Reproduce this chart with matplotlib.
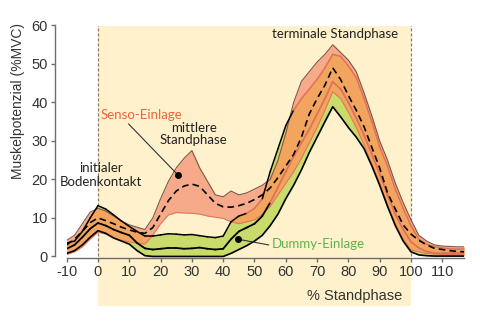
import numpy as np
import matplotlib
matplotlib.use("Agg")
import matplotlib.pyplot as plt
from matplotlib.collections import LineCollection
from matplotlib.patches import Rectangle

plt.rcParams["axes.unicode_minus"] = False

# % stance phase sampling grid
stance = np.arange(-10, 117.6, 2.5)

# Senso insole: upper band edge, mean, lower band edge (%MVC)
senso_hi = [4.2, 5.5, 8.5, 11.5, 12.5, 11.8, 10.5, 9.2, 8.2, 7.6, 7.0, 10.0, 15.0, 19.5,
            23.0, 25.5, 27.5, 23.0, 19.5, 16.0, 15.5, 17.0, 16.0, 16.5, 17.5, 18.5, 20.0,
            25.0, 32.0, 40.0, 45.5, 48.0, 50.5, 52.5, 55.0, 53.0, 51.0, 48.0, 42.5, 36.5,
            30.0, 25.0, 19.0, 14.0, 9.5, 5.5, 4.0, 3.0, 2.7, 2.6, 2.5, 2.5]
senso_mean = [3.0, 4.5, 6.5, 8.8, 10.0, 9.3, 8.5, 7.6, 6.9, 6.3, 6.0, 7.5, 11.0, 14.5,
              17.0, 18.3, 18.8, 18.2, 16.0, 13.8, 12.9, 12.8, 13.2, 13.8, 14.8, 16.0, 17.8,
              20.5, 23.5, 26.5, 31.0, 37.0, 41.0, 44.5, 49.0, 46.0, 41.8, 38.0, 33.7, 28.3,
              23.0, 16.5, 12.3, 8.2, 5.8, 4.2, 3.0, 2.1, 1.8, 1.5, 1.3, 1.2]
senso_lo = [0.5, 1.2, 2.5, 4.5, 6.3, 5.8, 4.8, 4.2, 3.8, 3.4, 3.2, 5.5, 8.5, 10.8,
            11.4, 11.3, 11.2, 11.0, 10.5, 10.2, 9.9, 9.0, 8.5, 9.0, 9.5, 11.0, 13.0,
            16.0, 19.0, 22.0, 25.5, 29.5, 33.5, 38.0, 42.8, 41.0, 37.5, 33.5, 29.0, 24.0,
            19.0, 13.5, 8.5, 4.5, 1.7, 1.2, 0.8, 0.6, 0.5, 0.5, 0.5, 0.5]

# Dummy insole: upper band edge, mean, lower band edge (%MVC)
dummy_hi = [3.5, 4.0, 6.5, 10.0, 13.2, 12.3, 10.8, 9.2, 7.8, 6.5, 5.3, 5.3, 5.6, 5.9,
            5.8, 5.6, 5.7, 5.4, 5.1, 4.9, 5.3, 9.0, 10.5, 11.2, 12.5, 15.0, 22.0,
            28.0, 34.0, 38.0, 41.0, 43.5, 46.0, 49.0, 52.5, 52.0, 49.5, 46.5, 41.0, 35.0,
            28.5, 23.5, 17.5, 12.5, 8.0, 4.5, 3.2, 2.5, 2.2, 2.0, 1.9, 1.9]
dummy_mean = [2.0, 3.0, 5.0, 7.2, 8.7, 8.0, 7.0, 6.2, 5.5, 3.5, 2.1, 1.8, 2.0, 2.2,
              2.2, 2.0, 2.1, 2.3, 2.0, 1.8, 2.0, 4.5, 6.5, 7.5, 8.5, 10.5, 14.0,
              18.0, 22.0, 26.0, 29.5, 33.0, 37.0, 41.0, 45.4, 43.5, 40.0, 36.0, 31.5, 26.5,
              21.5, 16.0, 11.0, 7.0, 3.8, 2.2, 1.3, 0.9, 0.8, 0.8, 0.8, 0.8]
dummy_lo = [0.8, 1.5, 3.0, 5.0, 6.7, 6.0, 4.8, 4.0, 3.2, 1.5, 0.2, 0.0, 0.0, 0.0,
            0.0, 0.0, 0.0, 0.0, 0.0, 0.0, 0.0, 0.8, 1.8, 2.8, 4.0, 5.5, 8.0,
            11.0, 15.0, 18.5, 22.5, 27.0, 31.0, 35.0, 38.9, 36.3, 33.5, 31.0, 28.0, 23.5,
            18.5, 13.0, 8.0, 4.0, 1.2, 0.4, 0.2, 0.1, 0.1, 0.1, 0.1, 0.1]

x_ticks = [-10, 0, 10, 20, 30, 40, 50, 60, 70, 80, 90, 100, 110]
y_ticks = [0, 10, 20, 30, 40, 50, 60]

C_PHASE = "#FEF1CC"
C_SENSO = "#F6AA8A"
C_DUMMY = "#C8DB6B"
C_BOTH = "#F3A55F"
C_RED = "#DD7356"
C_AXIS = "#6E6E6E"
C_SENSO_TXT = "#E8673D"
C_DUMMY_TXT = "#5DB44F"

W, H = 481, 323
fig = plt.figure(figsize=(W / 100, H / 100), dpi=100)
ax = fig.add_axes([66.7 / W, (H - 258) / H, 397.5 / W, (258 - 25.5) / H])
ax.set_xlim(-10, 117)
ax.set_ylim(-0.4, 60)
ax.patch.set_alpha(0)

sx = np.asarray(stance)
s_hi, s_m, s_lo = map(np.asarray, (senso_hi, senso_mean, senso_lo))
d_hi, d_m, d_lo = map(np.asarray, (dummy_hi, dummy_mean, dummy_lo))

# stance phase shading, reaching below the axis
ax.add_patch(Rectangle((0, -12.8), 100, 72.8, facecolor=C_PHASE, edgecolor="none",
                       clip_on=False, zorder=0))
for xv in (0, 100):
    ax.plot([xv, xv], [0, 60], color="#8C7F70", lw=0.9, ls=(0, (2.5, 1.5)), zorder=1)

# bands
ax.fill_between(sx, d_lo, d_hi, color=C_DUMMY, lw=0, zorder=2)
ax.fill_between(sx, s_lo, s_hi, color=C_SENSO, lw=0, zorder=2.1)
ov_lo = np.maximum(s_lo, d_lo)
ov_hi = np.minimum(s_hi, d_hi)
ax.fill_between(sx, ov_lo, ov_hi, where=ov_hi > ov_lo, interpolate=True,
                color=C_BOTH, lw=0, zorder=2.2)


def two_tone(y, inner, lw, z):
    pts = np.column_stack([sx, y])
    segs = np.stack([pts[:-1], pts[1:]], axis=1)
    m = inner[:-1] & inner[1:]
    cols = [C_RED if k else "black" for k in m]
    ax.add_collection(LineCollection(segs, colors=cols, linewidths=lw, zorder=z,
                                     capstyle="round", joinstyle="round"))


def inside_senso(y):
    return (sx > 45) & (y < s_hi) & (y > s_lo)


ax.plot(sx, s_hi, color="#7E5646", lw=0.8, zorder=3)
ax.plot(sx, s_lo, color=C_RED, lw=0.7, zorder=3)
ax.plot(sx, d_lo, color="black", lw=1.2, zorder=3.2)
two_tone(d_hi, inside_senso(d_hi), 1.1, 3.2)
two_tone(d_m, inside_senso(d_m), 1.3, 3.3)
ax.plot(sx, s_m, color="black", lw=1.2, ls=(0, (4, 2.5)), zorder=3.4)

# axes styling
for side in ("top", "right"):
    ax.spines[side].set_visible(False)
ax.spines["left"].set_position(("outward", 8.5))
ax.spines["left"].set_bounds(0, 60)
ax.spines["bottom"].set_bounds(-10, 117)
for side in ("left", "bottom"):
    ax.spines[side].set_color(C_AXIS)
    ax.spines[side].set_linewidth(1.0)
    ax.spines[side].set_zorder(4)
ax.set_xticks(x_ticks)
ax.set_yticks(y_ticks)
ax.tick_params(direction="out", length=3, width=1, color=C_AXIS, labelsize=10.5,
               labelcolor="#333333", pad=2)
for lab in ax.get_xticklabels() + ax.get_yticklabels():
    lab.set_fontfamily("Liberation Sans")

fig.text(18 / W, 1 - 101 / H, "Muskelpotenzial (%MVC)", rotation=90, ha="center",
         va="center", fontsize=10, color="#333333", family="Liberation Sans")
fig.text(354.5 / W, 1 - 296 / H, "% Standphase", ha="center", va="center",
         fontsize=10.5, color="#333333", family="Liberation Sans")

lbl = dict(family="Lato", fontsize=9.5, ha="center", va="center", zorder=6)
ax.text(75.9, 57.8, "terminale Standphase", color="#222222", **lbl)
ax.text(30.6, 31.9, "mittlere\nStandphase", color="#222222", linespacing=1.0, **lbl)
ax.text(0.9, 21.2, "initialer\nBodenkontakt", color="#222222", linespacing=1.15, **lbl)
ax.text(14.0, 36.8, "Senso-Einlage", color=C_SENSO_TXT, **lbl)
ax.text(55.5, 3.2, "Dummy-Einlage", color=C_DUMMY_TXT, family="Lato", fontsize=9.5,
        ha="left", va="center", zorder=6)

ax.plot([9.8, 25.5], [34.4, 21.2], color="#333333", lw=0.8, zorder=5)
ax.plot([25.5], [21.2], "o", color="black", ms=4, zorder=5)
ax.plot([44.6, 54.5], [4.5, 3.0], color="#333333", lw=0.8, zorder=5)
ax.plot([44.6], [4.5], "o", color="black", ms=4, zorder=5)

fig.savefig("out.png", dpi=100)
